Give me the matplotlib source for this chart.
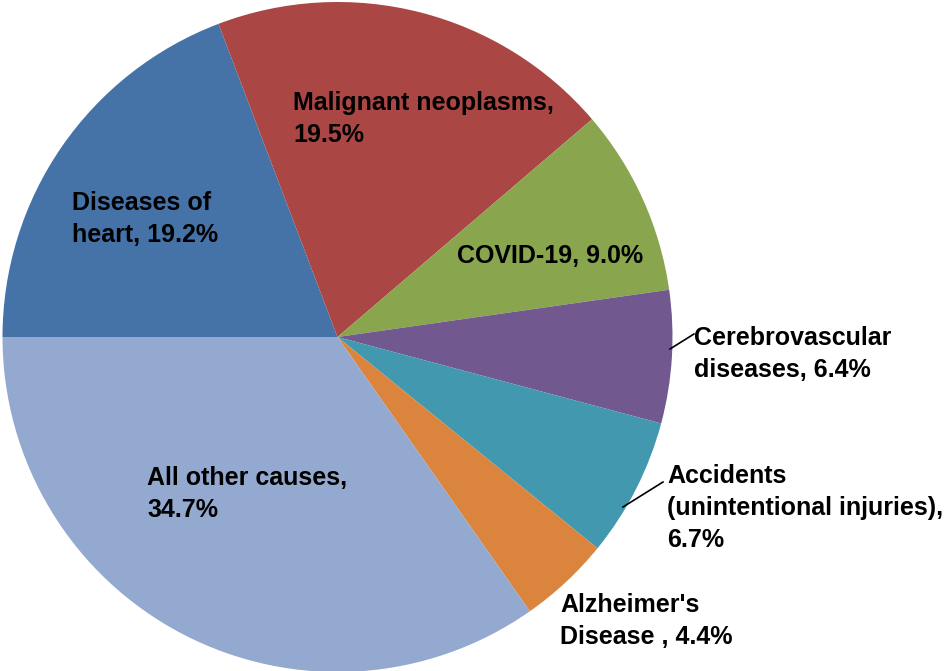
import matplotlib.pyplot as plt

# data
causes = ["Diseases of\nheart", "Malignant neoplasms,\n", "COVID-19", "Cerebrovascular\ndiseases",
          "Accidents\n(unintentional injuries),\n", "Alzheimer's\nDisease ", "All other causes,\n"]
shares = [19.2, 19.5, 9.0, 6.4, 6.7, 4.4, 34.7]
colors = ["#4572A7", "#AA4643", "#89A54E", "#71588F", "#4198AF", "#DB843D", "#93A9CF"]

W, H = 951, 671
cx, cy, r = 337.5, 337.0, 335.0

def px(x, y):
    # pixel position -> data coords (pie radius = 1)
    return (x - cx) / r, (cy - y) / r

fig = plt.figure(figsize=(W / 100, H / 100), dpi=100)
ax = fig.add_axes([0, 0, 1, 1])
ax.pie(shares, colors=colors, startangle=180, counterclock=False, radius=1,
       wedgeprops=dict(linewidth=0))
ax.set_xlim(-cx / r, (W - cx) / r)
ax.set_ylim((cy - H) / r, cy / r)
ax.set_aspect("equal")
ax.axis("off")

# label anchors (left, baseline of last line) in pixels
label_pos = [(72, 242), (293, 142), (457, 263), (694, 377), (667, 547), (560, 644), (147, 517)]
for name, val, (lx, ly) in zip(causes, shares, label_pos):
    if name.endswith("\n"):
        txt = name + "%.1f%%" % val
    else:
        txt = name + ", %.1f%%" % val
    x, y = px(lx, ly)
    ax.text(x, y, txt, ha="left", va="baseline", fontsize=18, fontweight="bold",
            family="Liberation Sans", linespacing=1.43, color="black")

# leader lines
for (x0, y0), (x1, y1) in [((670, 349), (694, 334)), ((623, 507), (663, 482))]:
    a, b = px(x0, y0)
    c, d = px(x1, y1)
    ax.plot([a, c], [b, d], color="black", lw=1.2)

fig.savefig("out.png", dpi=100)
